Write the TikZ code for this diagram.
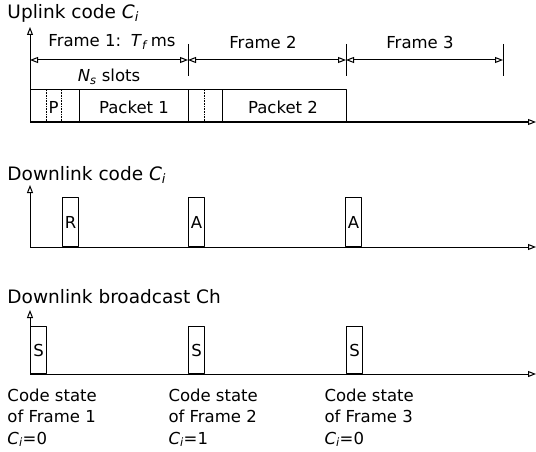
\documentclass[tikz,border=0pt]{standalone}
\usepackage{fontspec}
\setmainfont{DejaVu Sans}
\usetikzlibrary{arrows.meta}
\newcommand{\itsub}[2]{\textit{#1}\textsubscript{\textit{#2}}}

\begin{document}
\begin{tikzpicture}[x=1pt, y=-1pt, line width=1pt, line join=round,
  tip/.style={-{Triangle[open,length=8pt,width=6pt]}},
  dim/.style={{Triangle[open,length=8pt,width=6pt]}-{Triangle[open,length=8pt,width=6pt]}},
  title/.style={anchor=west, inner sep=0pt, font=\fontsize{18.5}{20}\selectfont},
  lbl/.style={inner sep=0pt, font=\fontsize{16.5}{21.5}\selectfont},
  slotbox/.style={draw, anchor=south west, minimum width=16pt, minimum height=49pt, inner sep=0pt, font=\fontsize{16.5}{19}\selectfont},
  thin/.style={line width=0.6pt, densely dotted}]
\useasboundingbox (0,0) rectangle (536,452);

% uplink
\node[title] (upT) at (7,13) {Uplink code \itsub{C}{i}};
\coordinate (uO) at (30,122);
\coordinate (uTop) at (30,27);
\coordinate (uEnd) at (536,122);
\draw[tip] (uO) -- (uTop);
\draw[tip] (uO) -- (uEnd);
\foreach \x/\n in {188/a,346/b,503/c}{
  \coordinate (t\n1) at (\x,44);
  \coordinate (t\n2) at (\x,76);
  \draw (t\n1) -- (t\n2);
}
\coordinate (f0) at (30,60);
\coordinate (f1) at (188,60);
\coordinate (f2) at (346,60);
\coordinate (f3) at (503,60);
\draw[dim] (f0) -- (f1);
\draw[dim] (f1) -- (f2);
\draw[dim] (f2) -- (f3);
\node[lbl] (fr1) at (112,42) {Frame 1:\, \itsub{T}{f}\,ms};
\node[lbl] (ns) at (109,77) {\itsub{N}{s} slots};
\node[lbl] (fr2) at (263,42) {Frame 2};
\node[lbl] (fr3) at (420,42) {Frame 3};

% packets
\draw (uO) rectangle (346,90);
\draw[thin] (46,90) -- (46,122);
\draw[thin] (61,90) -- (61,122);
\draw (79,90) -- (79,122);
\draw (188,90) -- (188,122);
\draw[thin] (204,90) -- (204,122);
\draw (222,90) -- (222,122);
\node[lbl] (p) at (53.5,107) {P};
\node[lbl] (pk1) at (134,107) {Packet 1};
\node[lbl] (pk2) at (283,107) {Packet 2};

% downlink code
\node[title] (dnT) at (7,175) {Downlink code \itsub{C}{i}};
\coordinate (dO) at (30,247);
\coordinate (dTop) at (30,185);
\coordinate (dEnd) at (536,247);
\draw[tip] (dO) -- (dTop);
\draw[tip] (dO) -- (dEnd);
\node[slotbox] (r) at (62,247) {R};
\node[slotbox] (a1) at (188,247) {A};
\node[slotbox] (a2) at (345,247) {A};

% broadcast
\node[title] (bcT) at (7,297) {Downlink broadcast Ch};
\coordinate (bO) at (30,374);
\coordinate (bTop) at (30,310);
\coordinate (bEnd) at (536,374);
\draw[tip] (bO) -- (bTop);
\draw[tip] (bO) -- (bEnd);
\node[slotbox, minimum height=47pt] (s1) at (30,374) {S};
\node[slotbox, minimum height=47pt] (s2) at (188,374) {S};
\node[slotbox, minimum height=47pt] (s3) at (346,374) {S};

\node[lbl, anchor=north west, align=left] (cs1) at (7,388) {Code state\\of Frame 1\\\itsub{C}{i}=0};
\node[lbl, anchor=north west, align=left] (cs2) at (168,388) {Code state\\of Frame 2\\\itsub{C}{i}=1};
\node[lbl, anchor=north west, align=left] (cs3) at (324,388) {Code state\\of Frame 3\\\itsub{C}{i}=0};
\end{tikzpicture}
\end{document}
